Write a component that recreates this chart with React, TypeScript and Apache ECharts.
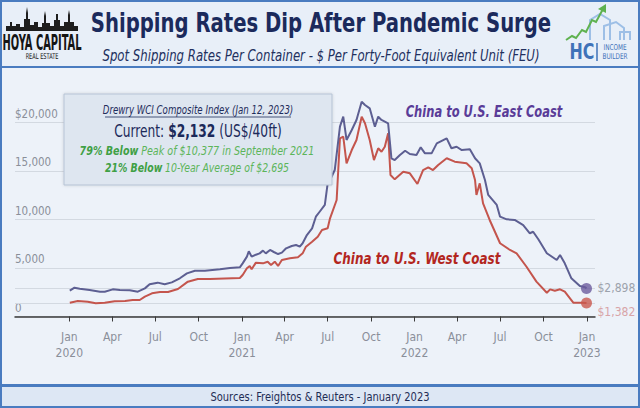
import React, { useEffect, useRef } from 'react';
import * as echarts from 'echarts';

const EAST_DATES = [
  '2020-01-02','2020-01-12','2020-01-23','2020-02-13','2020-03-06','2020-03-16','2020-04-02','2020-04-17','2020-05-08','2020-05-25',
  '2020-06-09','2020-06-19','2020-07-06','2020-07-21','2020-08-05','2020-08-22','2020-09-06','2020-09-23','2020-10-14','2020-11-15',
  '2020-12-06','2020-12-27','2021-01-02','2021-01-11','2021-01-15','2021-01-21','2021-01-30','2021-02-07','2021-02-14','2021-02-20',
  '2021-03-01','2021-03-09','2021-03-18','2021-03-26','2021-04-04','2021-04-16','2021-04-25','2021-05-03','2021-05-09','2021-05-18',
  '2021-05-29','2021-06-06','2021-06-14','2021-06-25','2021-07-01','2021-07-06','2021-07-16','2021-07-27','2021-08-03','2021-08-10',
  '2021-08-21','2021-08-31','2021-09-11','2021-09-18','2021-09-28','2021-10-09','2021-10-16','2021-10-23','2021-11-06','2021-11-13',
  '2021-11-20','2021-12-01','2021-12-12','2021-12-22','2022-01-05','2022-01-14','2022-01-23','2022-02-06','2022-02-17','2022-03-10',
  '2022-03-20','2022-03-31','2022-04-11','2022-04-28','2022-05-09','2022-05-19','2022-05-30','2022-06-06','2022-06-24','2022-07-01',
  '2022-07-15','2022-08-01','2022-08-19','2022-09-02','2022-09-09','2022-09-20','2022-10-08','2022-10-29','2022-11-05','2022-11-15',
  '2022-11-29','2022-12-03','2022-12-17','2022-12-28','2022-12-31',
];
const EAST_VALUES = [
  2660, 2970, 2870, 2730, 2560, 2560, 2800, 2730, 2700, 2560,
  2900, 3320, 3490, 3320, 3520, 3940, 4450, 4720, 4720, 4870,
  5000, 5070, 5480, 6170, 6720, 6170, 6370, 6510, 6790, 6510,
  6860, 6650, 6440, 6580, 7030, 7270, 7370, 7200, 7550, 8400,
  9090, 10290, 10800, 11500, 13730, 14070, 15100, 19570, 20600, 18200,
  19230, 20260, 22140, 21800, 21460, 19570, 20600, 20260, 19920, 16310,
  16130, 16650, 17090, 16750, 16650, 17440, 16820, 16820, 17850, 18370,
  17340, 17500, 17160, 17230, 16310, 15790, 14070, 12530, 11500, 10290,
  10020, 9950, 9430, 8580, 8740, 7960, 6520, 5820, 6340, 5480,
  3940, 3760, 3140, 3010, 2898,
];

const WEST_DATES = [
  '2020-01-02','2020-01-19','2020-02-09','2020-02-26','2020-03-16','2020-04-06','2020-04-28','2020-05-14','2020-05-29','2020-06-09',
  '2020-06-24','2020-07-11','2020-07-28','2020-08-18','2020-09-08','2020-09-29','2020-10-25','2020-12-27','2021-01-02','2021-01-11',
  '2021-01-17','2021-01-21','2021-01-30','2021-02-14','2021-02-24','2021-03-03','2021-03-11','2021-03-18','2021-03-26','2021-04-12',
  '2021-04-29','2021-05-09','2021-05-16','2021-05-29','2021-06-10','2021-06-19','2021-07-01','2021-07-06','2021-07-20','2021-07-27',
  '2021-08-03','2021-08-10','2021-08-21','2021-08-31','2021-09-11','2021-09-18','2021-09-28','2021-10-07','2021-10-16','2021-10-23',
  '2021-10-30','2021-11-06','2021-11-11','2021-11-20','2021-12-08','2021-12-22','2022-01-07','2022-01-19','2022-01-30','2022-02-09',
  '2022-02-20','2022-03-10','2022-03-27','2022-04-21','2022-05-02','2022-05-09','2022-05-12','2022-05-19','2022-05-26','2022-06-09',
  '2022-07-01','2022-07-22','2022-08-05','2022-08-26','2022-09-16','2022-10-08','2022-10-15','2022-10-25','2022-11-05','2022-11-15',
  '2022-12-03','2022-12-21','2022-12-31',
];
const WEST_VALUES = [
  1420, 1600, 1530, 1360, 1420, 1570, 1600, 1700, 1700, 2040,
  2390, 2530, 2530, 2840, 3590, 3870, 3870, 3970, 4280, 4970,
  5210, 4870, 5550, 5480, 5650, 5310, 5650, 5210, 5820, 6000,
  6100, 6510, 7200, 7710, 8230, 8920, 9090, 10120, 12010, 18370,
  18540, 15790, 17160, 18200, 20600, 19920, 18200, 16130, 17340, 16990,
  17500, 18890, 14590, 14140, 14930, 14760, 13660, 15100, 15380, 15100,
  15620, 16310, 15960, 15790, 15280, 14070, 12530, 13730, 11670, 9950,
  7550, 6860, 6510, 5130, 3590, 2450, 2800, 2660, 2800, 2560,
  1420, 1420, 1382,
];

const TICK_DATES = [
  '2020-01-01','2020-04-01','2020-07-01','2020-10-01','2021-01-01','2021-04-01','2021-07-01',
  '2021-10-01','2022-01-01','2022-04-01','2022-07-01','2022-10-01','2023-01-01',
];
const TICK_LABELS = [
  'Jan\n2020','Apr','Jul','Oct','Jan\n2021','Apr','Jul','Oct','Jan\n2022','Apr','Jul','Oct','Jan\n2023',
];
const Y_TICKS = [0, 5000, 10000, 15000, 20000];
const Y_LABELS = ['0', '5,000', '10,000', '15,000', '$20,000'];

const X_MIN = '2019-09-08';
const X_MAX = '2023-01-18';

const NARROW = '"Liberation Sans Narrow", "DejaVu Sans Condensed", "Open Sans", sans-serif';
const EAST_COLOR = '#5d5f92';
const WEST_COLOR = '#c4554d';
const GRID_COLOR = '#d3d9e1';
const BORDER = '#4a7cc0';

function ts(d: string) {
  return Date.parse(d);
}

const C = { align: 'center', verticalAlign: 'middle', textAlign: 'center', textVerticalAlign: 'middle' };

export default function App() {
  const ref = useRef<HTMLDivElement>(null);

  useEffect(() => {
    if (!ref.current) return;
    const chart = echarts.init(ref.current, undefined, { renderer: 'svg' });
    const east = EAST_DATES.map((d, i) => [ts(d), EAST_VALUES[i]]);
    const west = WEST_DATES.map((d, i) => [ts(d), WEST_VALUES[i]]);
    const eastLast = east[east.length - 1];
    const westLast = west[west.length - 1];
    const tickTs = TICK_DATES.map(ts);
    const fmtMoney = (v: number) => '$' + v.toLocaleString('en-US');

    const skyline = [
      [6, 31], [6, 26], [10, 26], [10, 22], [12, 22], [12, 26], [16, 26], [16, 24], [20, 24], [20, 27],
      [24, 27], [24, 19], [26, 19], [26, 13], [27, 7], [28, 13], [28, 19], [30, 19], [30, 25], [34, 25],
      [34, 22], [38, 22], [38, 27], [42, 27], [42, 23], [44, 23], [44, 16], [45, 11], [46, 16], [46, 23],
      [50, 23], [50, 26], [54, 26], [54, 20], [56, 20], [56, 14], [58, 14], [58, 20], [60, 20], [60, 26],
      [64, 26], [64, 22], [68, 22], [68, 15], [69, 10], [70, 15], [70, 22], [74, 22], [74, 26], [78, 26], [78, 31],
    ];

    const option: any = {
      animation: false,
      backgroundColor: '#edf2f9',
      grid: { left: 15, right: 45, top: 98.25, bottom: 91.5, containLabel: false },
      xAxis: {
        type: 'value',
        min: ts(X_MIN),
        max: ts(X_MAX),
        splitLine: { show: false },
        axisLine: { show: true, lineStyle: { color: '#3a3a3a', width: 1.5 } },
        axisTick: { show: true, customValues: tickTs, length: 5, lineStyle: { color: '#3a3a3a', width: 1 } },
        axisLabel: {
          customValues: tickTs,
          formatter: (v: number) => {
            const i = tickTs.indexOf(v);
            return i >= 0 ? TICK_LABELS[i] : '';
          },
          color: '#8a8f99',
          fontSize: 12,
          lineHeight: 16,
          margin: 12,
          fontFamily: NARROW,
        },
      },
      yAxis: {
        type: 'value',
        min: 0,
        max: 22500,
        interval: 5000,
        axisLine: { show: false },
        axisTick: { show: false },
        splitLine: { show: true, showMaxLine: false, lineStyle: { color: GRID_COLOR, width: 1 } },
        axisLabel: {
          inside: true,
          margin: 0,
          verticalAlign: 'bottom',
          padding: [0, 0, 3, 0],
          showMaxLabel: false,
          color: '#8a8f99',
          fontSize: 11.5,
          fontFamily: NARROW,
          formatter: (v: number) => {
            const i = Y_TICKS.indexOf(v);
            return i >= 0 ? Y_LABELS[i] : '';
          },
        },
      },
      series: [
        {
          type: 'line',
          name: 'China to U.S. East Coast',
          data: east,
          showSymbol: false,
          lineStyle: { color: EAST_COLOR, width: 2 },
          itemStyle: { color: EAST_COLOR },
          z: 4,
          endLabel: {
            show: true,
            formatter: () => fmtMoney(eastLast[1]),
            color: '#9ca2ac',
            fontSize: 12,
            fontFamily: NARROW,
            offset: [3, 0],
          },
          markLine: {
            silent: true,
            symbol: ['none', 'none'],
            label: { show: false },
            lineStyle: { color: GRID_COLOR, type: 'solid', width: 1 },
            data: [{ yAxis: eastLast[1] }],
            z: 1,
          },
        },
        {
          type: 'line',
          name: 'China to U.S. West Coast',
          data: west,
          showSymbol: false,
          lineStyle: { color: WEST_COLOR, width: 2 },
          itemStyle: { color: WEST_COLOR },
          z: 3,
          endLabel: {
            show: true,
            formatter: () => fmtMoney(westLast[1]),
            color: '#d8a4a8',
            fontSize: 12,
            fontFamily: NARROW,
            offset: [3, 9],
          },
          markLine: {
            silent: true,
            symbol: ['none', 'none'],
            label: { show: false },
            lineStyle: { color: GRID_COLOR, type: 'solid', width: 1 },
            data: [{ yAxis: westLast[1] }],
            z: 1,
          },
        },
        {
          type: 'scatter',
          data: [eastLast],
          symbolSize: 11,
          itemStyle: { color: '#6b5b9e' },
          z: 6,
        },
        {
          type: 'scatter',
          data: [westLast],
          symbolSize: 11,
          itemStyle: { color: '#c9584e' },
          z: 6,
        },
      ],
      graphic: [
        // frames
        { type: 'rect', z: -5, shape: { x: 1, y: 1, width: 638, height: 66 }, style: { fill: '#e8eff8', stroke: BORDER, lineWidth: 2 } },
        { type: 'rect', z: 50, shape: { x: 1, y: 67, width: 638, height: 318 }, style: { fill: 'none', stroke: BORDER, lineWidth: 2 } },
        { type: 'rect', z: 50, shape: { x: 1, y: 386, width: 638, height: 21 }, style: { fill: '#dde7f4', stroke: BORDER, lineWidth: 2 } },
        {
          type: 'text', z: 51, x: 320, y: 396.5, scaleX: 0.85,
          style: { text: 'Sources: Freightos & Reuters - January 2023', fill: '#1f2d55', fontSize: 13, fontFamily: NARROW, ...C },
        },
        // title
        {
          type: 'text', z: 10, x: 321, y: 23, scaleX: 0.84,
          style: { text: 'Shipping Rates Dip After Pandemic Surge', fill: '#1b2a5c', fontSize: 26, fontWeight: 'bold', fontFamily: NARROW, ...C },
        },
        {
          type: 'text', z: 10, x: 321, y: 56, scaleX: 0.87,
          style: { text: 'Spot Shipping Rates Per Container - $ Per Forty-Foot Equivalent Unit (FEU)', fill: '#22305e', fontSize: 15, fontStyle: 'italic', fontFamily: NARROW, ...C },
        },
        // Hoya logo
        { type: 'polygon', z: 10, shape: { points: skyline }, style: { fill: '#1e1e1e' } },
        {
          type: 'text', z: 10, x: 42, y: 42, scaleX: 0.5,
          style: { text: 'HOYA CAPITAL', fill: '#151515', fontSize: 22, fontWeight: 'bold', fontFamily: NARROW, ...C },
        },
        {
          type: 'text', z: 10, x: 42, y: 57, scaleX: 0.7,
          style: { text: 'REAL ESTATE', fill: '#151515', fontSize: 8, fontFamily: NARROW, ...C },
        },
        // HC logo
        { type: 'polyline', z: 10, shape: { points: [[590, 40], [590, 20], [600, 14], [610, 20], [610, 40]] }, style: { stroke: '#9dbfe6', fill: 'none', lineWidth: 2 } },
        { type: 'polyline', z: 10, shape: { points: [[604, 40], [604, 26], [616, 22], [624, 28], [624, 40]] }, style: { stroke: '#9dbfe6', fill: 'none', lineWidth: 2 } },
        { type: 'polyline', z: 10, shape: { points: [[620, 40], [620, 32], [630, 32], [630, 40]] }, style: { stroke: '#9dbfe6', fill: 'none', lineWidth: 2 } },
        { type: 'polyline', z: 11, shape: { points: [[566, 40], [572, 36], [576, 38], [582, 30], [586, 32], [592, 20], [596, 22], [603, 9]] }, style: { stroke: '#5fb24f', fill: 'none', lineWidth: 2 } },
        { type: 'polygon', z: 11, shape: { points: [[598, 9], [606, 4], [606, 13]] }, style: { fill: '#5fb24f' } },
        {
          type: 'text', z: 10, x: 582, y: 52, scaleX: 0.8,
          style: { text: 'HC', fill: '#3f72b8', fontSize: 22, fontWeight: 'bold', fontFamily: NARROW, ...C },
        },
        { type: 'line', z: 10, shape: { x1: 597, y1: 43, x2: 597, y2: 61 }, style: { stroke: '#3f72b8', lineWidth: 1.5 } },
        {
          type: 'text', z: 10, x: 615, y: 47, scaleX: 0.8,
          style: { text: 'INCOME', fill: '#3f72b8', fontSize: 8, fontFamily: NARROW, ...C },
        },
        {
          type: 'text', z: 10, x: 615, y: 56, scaleX: 0.8,
          style: { text: 'BUILDER', fill: '#3f72b8', fontSize: 8, fontFamily: NARROW, ...C },
        },
        // annotation box
        { type: 'rect', z: 20, shape: { x: 64, y: 94, width: 268, height: 91 }, style: { fill: '#dee6f0', stroke: '#b6c3d5', lineWidth: 1, shadowBlur: 3, shadowColor: 'rgba(0,0,0,0.15)' } },
        {
          type: 'text', z: 21, x: 198, y: 110, scaleX: 0.8,
          style: { text: 'Drewry WCI Composite Index (Jan 12, 2023)', fill: '#1f2d5c', fontSize: 12, fontStyle: 'italic', fontFamily: NARROW, ...C },
        },
        { type: 'line', z: 21, shape: { x1: 105, y1: 117, x2: 291, y2: 117 }, style: { stroke: '#1f2d5c', lineWidth: 0.8 } },
        {
          type: 'text', z: 21, x: 198, y: 131, scaleX: 0.8,
          style: {
            text: '{a|Current: }{b|$2,132}{a| (US$/40ft)}',
            ...C,
            rich: {
              a: { fill: '#1c2a5a', color: '#1c2a5a', fontSize: 17, fontFamily: NARROW },
              b: { fill: '#1c2a5a', color: '#1c2a5a', fontSize: 17, fontWeight: 'bold', fontFamily: NARROW },
            },
          },
        },
        {
          type: 'text', z: 21, x: 197, y: 151, scaleX: 0.82,
          style: {
            text: '{b|79% Below} {a|Peak of $10,377 in September 2021}',
            ...C,
            rich: {
              a: { fill: '#5cb55a', color: '#5cb55a', fontSize: 13, fontStyle: 'italic', fontFamily: NARROW },
              b: { fill: '#3fa045', color: '#3fa045', fontSize: 13, fontStyle: 'italic', fontWeight: 'bold', fontFamily: NARROW },
            },
          },
        },
        {
          type: 'text', z: 21, x: 197, y: 168, scaleX: 0.8,
          style: {
            text: '{b|21% Below} {a|10-Year Average of $2,695}',
            ...C,
            rich: {
              a: { fill: '#5cb55a', color: '#5cb55a', fontSize: 13, fontStyle: 'italic', fontFamily: NARROW },
              b: { fill: '#3fa045', color: '#3fa045', fontSize: 13, fontStyle: 'italic', fontWeight: 'bold', fontFamily: NARROW },
            },
          },
        },
        // series labels
        {
          type: 'text', z: 21, x: 484, y: 111, scaleX: 0.8,
          style: { text: 'China to U.S. East Coast', fill: '#5a3c98', fontSize: 16, fontWeight: 'bold', fontStyle: 'italic', fontFamily: NARROW, ...C },
        },
        {
          type: 'text', z: 21, x: 417, y: 258, scaleX: 0.83,
          style: { text: 'China to U.S. West Coast', fill: '#b3261e', fontSize: 16, fontWeight: 'bold', fontStyle: 'italic', fontFamily: NARROW, ...C },
        },
      ],
    };

    chart.setOption(option);
    return () => chart.dispose();
  }, []);

  return (
    <div
      ref={ref}
      style={{ position: 'fixed', left: 0, top: 0, width: 640, height: 408 }}
    />
  );
}
